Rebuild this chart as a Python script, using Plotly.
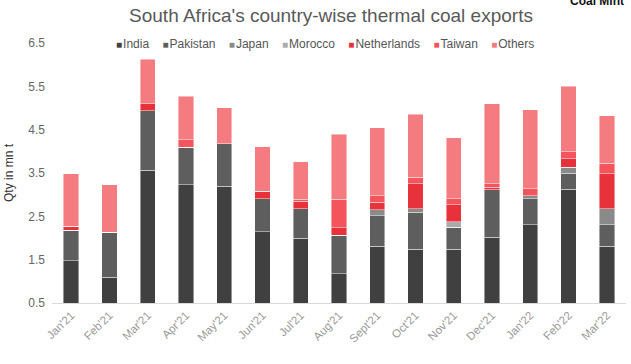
import plotly.graph_objects as go

months = ["Jan'21", "Feb'21", "Mar'21", "Apr'21", "May'21", "Jun'21", "Jul'21", "Aug'21",
          "Sept'21", "Oct'21", "Nov'21", "Dec'21", "Jan'22", "Feb'22", "Mar'22"]

india       = [1.47, 1.09, 3.56, 3.23, 3.19, 2.14, 2.00, 1.17, 1.81, 1.74, 1.74, 2.02, 2.31, 3.12, 1.81]
pakistan    = [0.71, 1.04, 1.38, 0.86, 0.98, 0.77, 0.68, 0.89, 0.70, 0.86, 0.51, 1.09, 0.60, 0.37, 0.50]
japan       = [0.00, 0.00, 0.00, 0.00, 0.00, 0.00, 0.00, 0.00, 0.14, 0.08, 0.00, 0.00, 0.06, 0.14, 0.36]
morocco     = [0.00, 0.00, 0.00, 0.00, 0.00, 0.00, 0.00, 0.00, 0.00, 0.00, 0.13, 0.00, 0.00, 0.00, 0.00]
netherlands = [0.09, 0.00, 0.16, 0.00, 0.00, 0.17, 0.17, 0.18, 0.18, 0.57, 0.39, 0.06, 0.00, 0.20, 0.81]
taiwan      = [0.00, 0.00, 0.00, 0.18, 0.00, 0.00, 0.05, 0.65, 0.15, 0.15, 0.14, 0.08, 0.17, 0.16, 0.24]
others      = [1.21, 1.10, 1.03, 1.00, 0.84, 1.03, 0.86, 1.50, 1.56, 1.46, 1.40, 1.85, 1.82, 1.51, 1.10]

series = [
    ("India", india, "#404040"),
    ("Pakistan", pakistan, "#5e5e5e"),
    ("Japan", japan, "#8a8a8a"),
    ("Morocco", morocco, "#ababab"),
    ("Netherlands", netherlands, "#e8323b"),
    ("Taiwan", taiwan, "#f4545b"),
    ("Others", others, "#f47b80"),
]

fig = go.Figure()
for name, vals, col in series:
    fig.add_trace(go.Bar(
        x=months, y=vals, name=name, showlegend=False,
        marker=dict(color=col, line=dict(color="rgba(255,255,255,0.55)", width=0.8)),
    ))

T, B, L, R = 43, 61, 52, 5
PLOT_H = 364 - T - B
PLOT_W = 631 - L - R

fig.update_layout(
    barmode="stack",
    bargap=0.6,
    width=631, height=364,
    margin=dict(l=L, r=R, t=T, b=B, autoexpand=False),
    paper_bgcolor="white", plot_bgcolor="white",
    font=dict(family="Liberation Sans Narrow, Liberation Sans, sans-serif", color="#555"),
    title=dict(text="South Africa's country-wise thermal coal exports",
               x=331 / 631, xanchor="center", y=1 - 15/364, yanchor="middle",
               font=dict(size=19, color="#595959", family="Liberation Sans Narrow, sans-serif")),
    showlegend=False,
)

fig.update_yaxes(range=[0.5, 6.5], tickvals=[0.5, 1.5, 2.5, 3.5, 4.5, 5.5, 6.5],
                 ticktext=["0.5", "1.5", "2.5", "3.5", "4.5", "5.5", "6.5"],
                 showgrid=False, zeroline=False, showline=False, ticks="", ticklen=0,
                 tickfont=dict(size=12, color="#666"), ticklabelstandoff=6,
                 title=dict(text="Qty in mn t", font=dict(size=12, color="#333"), standoff=12))
fig.update_xaxes(showgrid=False, showline=True, linecolor="#d9d9d9", linewidth=1,
                 tickangle=-45, tickfont=dict(size=11.5, color="#999"))

# legend drawn as one line of text with coloured squares
legend_parts = []
for name, vals, col in series:
    legend_parts.append(f"<span style='color:{col};font-size:10px'>■</span>&#8202;{name}")
legend_text = "&nbsp;&nbsp;&nbsp;&nbsp;".join(legend_parts)
fig.add_annotation(text=legend_text, xref="paper", yref="paper",
                   x=(325 - L) / PLOT_W, xanchor="center", y=1 - 1/PLOT_H, yanchor="middle",
                   showarrow=False, font=dict(size=12, color="#555"))

fig.add_annotation(text="<b>Coal Mint</b>", xref="paper", yref="paper",
                   x=1.0, xanchor="right", y=1 + (T - 1)/PLOT_H, yanchor="middle",
                   showarrow=False, font=dict(size=12, color="#111", family="Liberation Sans, sans-serif"))

fig.write_html("out.html", config={"displayModeBar": False},
               post_script="document.body.style.margin='0';")
